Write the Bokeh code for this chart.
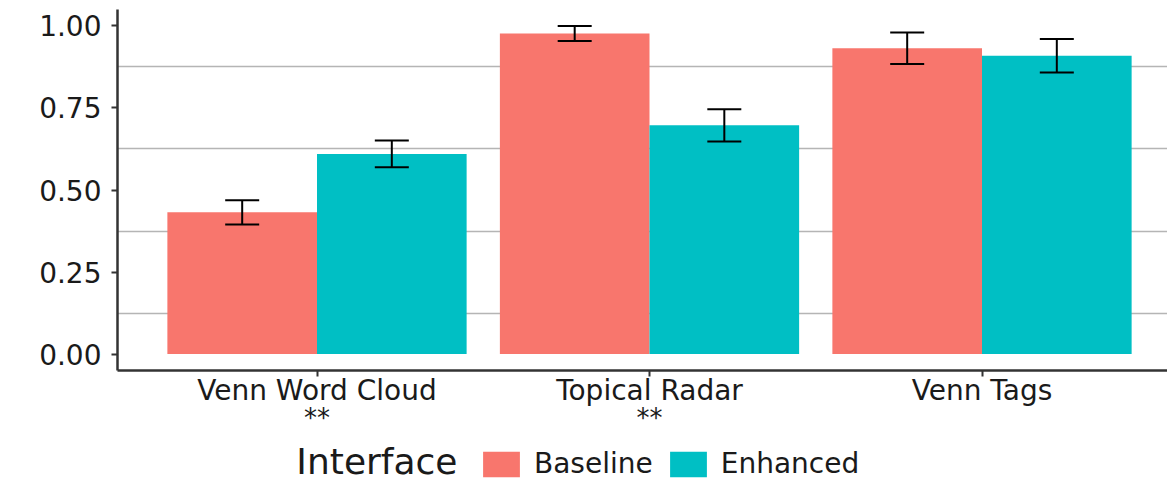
import numpy as np
from bokeh.plotting import figure
from bokeh.layouts import column
from bokeh.models import (ColumnDataSource, Range1d, FixedTicker, LinearAxis, Whisker,
                          TeeHead, Legend, LegendItem, Label)
from bokeh.embed import file_html
from bokeh.resources import INLINE

# ---- data ----
categories = ["Venn Word Cloud", "Topical Radar", "Venn Tags"]
significance = ["**", "**", ""]
series = ["Baseline", "Enhanced"]
baseline_mean = [0.432, 0.977, 0.932]
baseline_err = [0.037, 0.023, 0.048]
enhanced_mean = [0.610, 0.697, 0.909]
enhanced_err = [0.041, 0.049, 0.051]
y_ticks = [0.0, 0.25, 0.5, 0.75, 1.0]
y_tick_labels = ["0.00", "0.25", "0.50", "0.75", "1.00"]
y_minor = [0.125, 0.375, 0.625, 0.875]
legend_title = "Interface"
colors = ["#F8766D", "#00BFC4"]

FONT = "DejaVu Sans"
AXIS_COLOR = "#333333"
TEXT_COLOR = "#1a1a1a"

xpos = np.arange(1, len(categories) + 1)
dodge = 0.225
bar_w = 0.45

src_b = ColumnDataSource(dict(x=xpos - dodge, top=baseline_mean,
                              upper=np.array(baseline_mean) + np.array(baseline_err),
                              lower=np.array(baseline_mean) - np.array(baseline_err)))
src_e = ColumnDataSource(dict(x=xpos + dodge, top=enhanced_mean,
                              upper=np.array(enhanced_mean) + np.array(enhanced_err),
                              lower=np.array(enhanced_mean) - np.array(enhanced_err)))

FW, FH = 1050, 361
LEFT = 117
unit_px = 332.5
p = figure(frame_width=FW, frame_height=FH,
           x_range=Range1d(0.4, 0.4 + FW / unit_px), y_range=Range1d(-0.05, 1.05),
           output_backend="svg", toolbar_location=None,
           min_border_left=LEFT, min_border_top=9, min_border_right=0, min_border_bottom=68)
p.outline_line_color = None
p.background_fill_color = "white"
p.border_fill_color = "white"

r_b = p.vbar(x="x", top="top", width=bar_w, bottom=0, source=src_b,
             fill_color=colors[0], line_color=None)
r_e = p.vbar(x="x", top="top", width=bar_w, bottom=0, source=src_e,
             fill_color=colors[1], line_color=None)

for src in (src_b, src_e):
    w = Whisker(source=src, base="x", upper="upper", lower="lower",
                line_width=2, line_color="black",
                upper_head=TeeHead(size=34, line_width=2, line_color="black"),
                lower_head=TeeHead(size=34, line_width=2, line_color="black"))
    w.level = "annotation"
    p.add_layout(w)

# y axis
p.yaxis.ticker = FixedTicker(ticks=y_ticks, minor_ticks=y_minor)
p.yaxis.major_label_overrides = {t: l for t, l in zip(y_ticks, y_tick_labels)}
p.ygrid.grid_line_color = None
p.ygrid.minor_grid_line_color = "#b5b5b5"
p.ygrid.minor_grid_line_width = 1.5
p.xgrid.grid_line_color = None

for ax in (p.yaxis[0], p.xaxis[0]):
    ax.axis_line_color = AXIS_COLOR
    ax.axis_line_width = 2.5
    ax.major_tick_line_color = AXIS_COLOR
    ax.major_tick_line_width = 2
    ax.major_tick_out = 6
    ax.major_tick_in = 0
    ax.minor_tick_line_color = None
    ax.major_label_text_font = FONT
    ax.major_label_text_color = TEXT_COLOR
    ax.major_label_text_font_size = "28px"

p.yaxis.major_label_standoff = 10
p.xaxis.ticker = FixedTicker(ticks=list(xpos))
p.xaxis.major_label_overrides = {int(x): c for x, c in zip(xpos, categories)}
p.xaxis.major_label_standoff = -3

# significance row
sig_ticks = [int(x) for x, s in zip(xpos, significance) if s]
ax2 = LinearAxis(ticker=FixedTicker(ticks=sig_ticks),
                 major_label_overrides={int(x): s for x, s in zip(xpos, significance) if s},
                 axis_line_color=None, major_tick_line_color=None, minor_tick_line_color=None,
                 major_tick_out=0, major_tick_in=0,
                 major_label_standoff=-7, major_label_text_font=FONT,
                 major_label_text_color=TEXT_COLOR, major_label_text_font_size="26px")
p.add_layout(ax2, "below")

# legend row (separate strip so the title can sit left of the keys)
LH = 45
pl = figure(frame_width=FW, frame_height=LH, x_range=Range1d(0, FW), y_range=Range1d(10, 10 + LH),
            output_backend="svg", toolbar_location=None, x_axis_location=None,
            y_axis_location=None, min_border_left=LEFT, min_border_top=0,
            min_border_right=0, min_border_bottom=0)
pl.outline_line_color = None
pl.xgrid.grid_line_color = None
pl.ygrid.grid_line_color = None
# key renderers share the bar data; their bars fall outside this strip's view
k_b = pl.vbar(x="x", top="top", width=bar_w, bottom=0, source=src_b,
              fill_color=colors[0], line_color=None)
k_e = pl.vbar(x="x", top="top", width=bar_w, bottom=0, source=src_e,
              fill_color=colors[1], line_color=None)
legend = Legend(items=[LegendItem(label=series[0], renderers=[k_b]),
                       LegendItem(label=series[1], renderers=[k_e])],
                orientation="horizontal", location=(361, 3),
                glyph_width=46, glyph_height=32, label_standoff=10, spacing=12,
                padding=0, margin=0, border_line_color=None, background_fill_alpha=0,
                label_text_font=FONT, label_text_font_size="28px",
                label_text_color=TEXT_COLOR, label_height=32)
pl.add_layout(legend)

title_lbl = Label(x=340, y=22, x_units="screen", y_units="screen", text=legend_title,
                  text_align="right", text_baseline="middle", text_font=FONT,
                  text_font_size="36px", text_color=TEXT_COLOR)
pl.add_layout(title_lbl)

layout = column(p, pl, spacing=0)
open("out.html", "w").write(file_html(layout, INLINE))
